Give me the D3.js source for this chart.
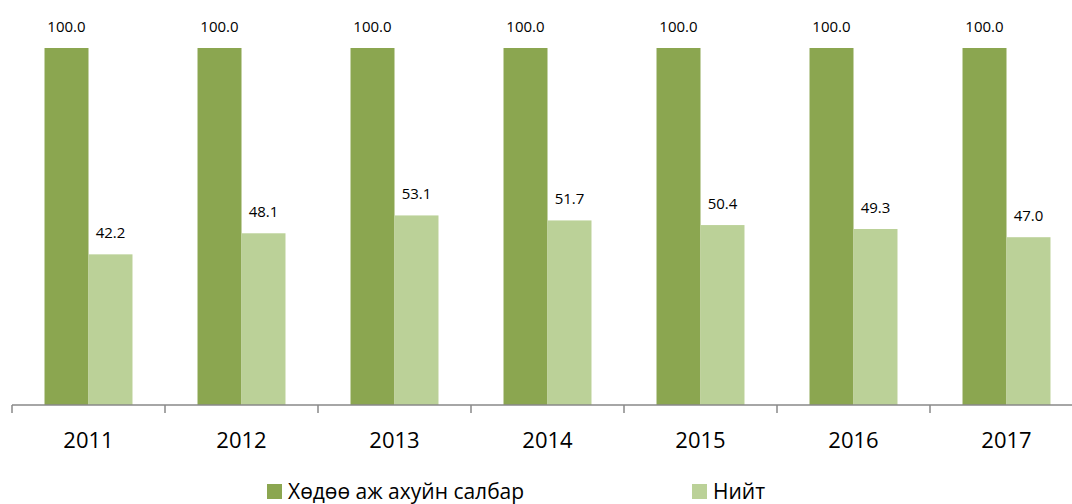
<!DOCTYPE html>
<html>
<head>
<meta charset="utf-8">
<script src="https://cdn.jsdelivr.net/npm/d3@7"></script>
<style>
  html, body { margin: 0; padding: 0; background: #fff; }
  svg { display: block; font-family: "Open Sans", "Noto Sans", sans-serif; }
</style>
</head>
<body>
<svg id="chart" width="1072" height="504"></svg>
<script>
// Chart data
const years = ["2011", "2012", "2013", "2014", "2015", "2016", "2017"];
const seriesNames = ["Хөдөө аж ахуйн салбар", "Нийт"];
const agriValues = [100.0, 100.0, 100.0, 100.0, 100.0, 100.0, 100.0];
const totalValues = [42.2, 48.1, 53.1, 51.7, 50.4, 49.3, 47.0];
const seriesColors = ["#8BA650", "#BBD198"];

const svg = d3.select("#chart");

// Scales
const x0 = d3.scaleBand()
  .domain(years)
  .range([12, 12 + 153 * years.length])
  .paddingInner(0.425)
  .paddingOuter(0.2125);

const x1 = d3.scaleBand()
  .domain(seriesNames)
  .range([0, x0.bandwidth()]);

const y = d3.scaleLinear()
  .domain([0, 100])
  .range([405, 48]);

const rows = years.map((yr, i) => ({
  year: yr,
  values: [
    { name: seriesNames[0], value: agriValues[i] },
    { name: seriesNames[1], value: totalValues[i] }
  ]
}));

// Bars
const groups = svg.append("g")
  .selectAll("g")
  .data(rows)
  .join("g")
  .attr("transform", d => `translate(${ x0(d.year) }, 0)`);

groups.selectAll("rect")
  .data(d => d.values)
  .join("rect")
  .attr("x", d => x1(d.name))
  .attr("y", d => y(d.value))
  .attr("width", x1.bandwidth())
  .attr("height", d => y(0) - y(d.value))
  .attr("fill", (d, i) => seriesColors[i]);

// Value labels
groups.selectAll("text")
  .data(d => d.values)
  .join("text")
  .attr("x", d => x1(d.name) + x1.bandwidth() / 2)
  .attr("y", d => y(d.value) - 16)
  .attr("text-anchor", "middle")
  .style("font-size", "15px")
  .attr("fill", "#000")
  .text(d => d.value.toFixed(1));

// X axis: line with ticks between categories
const step = x0.step();
const boundaries = d3.range(years.length + 1).map(i => 12 + i * step);
const axis = svg.append("g");
axis.append("line")
  .attr("x1", 12).attr("x2", 12 + step * years.length)
  .attr("y1", y(0)).attr("y2", y(0))
  .attr("stroke", "#898989").attr("stroke-width", 1.5);
axis.selectAll("line.tick")
  .data(boundaries)
  .join("line")
  .attr("class", "tick")
  .attr("x1", d => d).attr("x2", d => d)
  .attr("y1", y(0)).attr("y2", y(0) + 8)
  .attr("stroke", "#898989").attr("stroke-width", 1.5);

axis.selectAll("text")
  .data(years)
  .join("text")
  .attr("x", d => x0(d) + x0.bandwidth() / 2)
  .attr("y", 448)
  .attr("text-anchor", "middle")
  .style("font-size", "22px")
  .attr("fill", "#000")
  .text(d => d);

// Legend
const legendX = [267, 692];
const legend = svg.append("g")
  .selectAll("g")
  .data(seriesNames)
  .join("g")
  .attr("transform", (d, i) => `translate(${ legendX[i] }, 484)`);

legend.append("rect")
  .attr("width", 15).attr("height", 15)
  .attr("fill", (d, i) => seriesColors[i]);

legend.append("text")
  .attr("x", 21)
  .attr("y", 15)
  .style("font-size", "21px")
  .attr("fill", "#000")
  .text(d => d);
</script>
</body>
</html>
